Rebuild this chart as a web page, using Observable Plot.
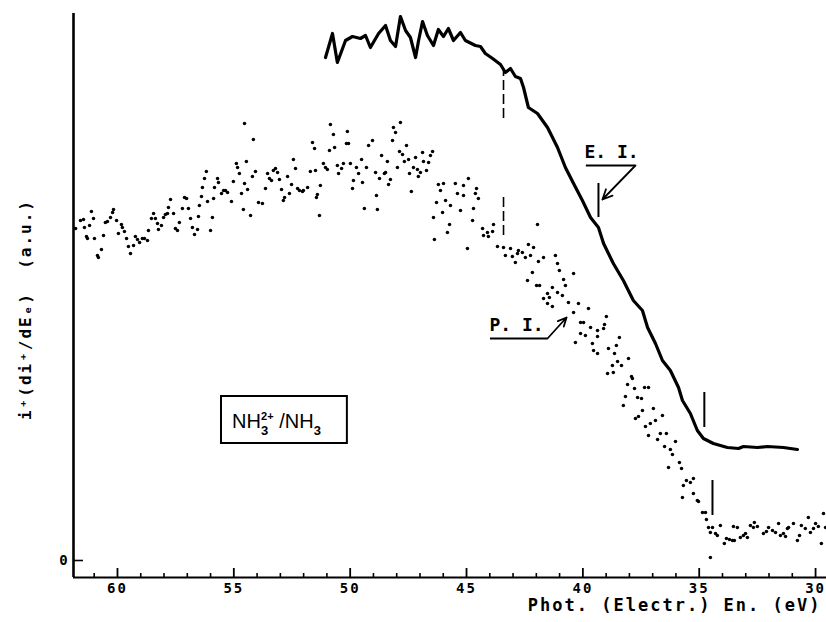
<!DOCTYPE html>
<html>
<head>
<meta charset="utf-8">
<script src="https://cdn.jsdelivr.net/npm/d3@7"></script>
<script src="https://cdn.jsdelivr.net/npm/@observablehq/plot@0.6"></script>
<style>
  body { margin: 0; background: #fff; }
</style>
</head>
<body>
<div id="chart"></div>
<script>
// ---- data (photon / electron energy in eV, signal in arbitrary units) ----
const xDomain = [61.89, 29.53];
const yDomain = [-3.4, 109.4];
const xMajorTicks = [60, 55, 50, 45, 40, 35, 30];
const xMinorTicks = [61, 59, 58, 57, 56, 54, 53, 52, 51, 49, 48, 47, 46, 44, 43, 42, 41, 39, 38, 37, 36, 34, 33, 32, 31];
const yTicks = [0];

// E.I. (electron impact) curve
const eiCurve = [
  [51.06,100.6],[50.76,105.4],[50.55,99.6],[50.20,104.0],[49.90,104.8],[49.56,104.4],[49.34,105.0],
  [49.13,102.6],[48.78,105.4],[48.48,107.0],[48.27,104.0],[48.05,102.8],[47.84,108.8],[47.62,106.0],
  [47.41,104.6],[47.19,100.6],[47.06,104.0],[46.89,107.8],[46.68,105.0],[46.42,103.0],[46.21,106.2],
  [45.99,104.8],[45.78,106.4],[45.56,104.0],[45.26,105.6],[45.05,104.0],[44.62,103.0],[44.40,102.8],
  [44.19,101.4],[43.88,100.4],[43.54,99.2],[43.33,97.6],[43.11,98.4],[42.90,96.8],[42.68,96.4],
  [42.55,94.6],[42.34,90.6],[41.95,89.4],[41.52,86.6],[41.09,82.6],[40.75,78.6],[40.40,75.4],
  [40.02,72.0],[39.67,68.6],[39.33,66.6],[39.11,63.4],[38.69,59.4],[38.26,56.0],[37.83,52.0],
  [37.44,50.0],[37.22,46.6],[36.88,43.4],[36.58,40.0],[36.24,38.0],[35.89,34.6],[35.72,32.0],
  [35.38,29.4],[35.08,26.0],[34.82,24.4],[34.39,23.4],[33.79,22.6],[33.31,22.4],[33.10,22.8],
  [32.50,22.6],[32.07,22.8],[31.38,22.6],[30.78,22.2]
];

// P.I. (photoionization) scattered points
const piPoints = [
  [61.80,66.4],[61.59,68.0],[61.46,68.2],[61.42,66.6],[61.33,64.8],[61.29,64.4],[61.20,67.0],[61.12,69.8],
  [61.03,68.4],[60.99,64.4],[60.86,61.0],[60.82,60.6],[60.69,62.2],[60.60,65.0],[60.52,67.6],[60.43,67.8],
  [60.30,68.6],[60.21,69.6],[60.17,70.2],[60.04,68.0],[59.96,65.4],[59.83,67.2],[59.79,66.6],[59.70,65.8],
  [59.61,64.4],[59.53,62.8],[59.44,61.4],[59.31,63.0],[59.23,64.8],[59.14,64.2],[59.05,63.6],[58.93,64.4],
  [58.84,64.4],[58.71,64.0],[58.67,66.0],[58.54,68.4],[58.45,69.4],[58.37,68.4],[58.28,67.4],[58.24,66.2],
  [58.11,67.0],[58.02,68.6],[57.94,69.2],[57.85,69.4],[57.81,70.6],[57.72,72.2],[57.59,69.4],[57.51,66.4],
  [57.42,66.0],[57.34,67.6],[57.21,70.4],[57.12,72.6],[57.03,72.4],[56.95,70.4],[56.86,68.4],[56.78,66.6],
  [56.69,65.2],[56.56,66.2],[56.52,68.8],[56.48,71.0],[56.39,72.8],[56.35,74.6],[56.26,76.4],[56.18,77.8],
  [56.13,71.8],[56.00,66.0],[55.92,68.6],[55.87,72.4],[55.83,74.6],[55.70,76.4],[55.66,75.6],[55.53,73.4],
  [55.44,74.0],[55.36,74.0],[55.27,73.6],[55.10,71.8],[55.02,75.8],[54.89,79.4],[54.84,78.6],[54.76,77.4],
  [54.67,73.4],[54.59,70.2],[54.54,75.4],[54.46,79.8],[54.41,74.2],[54.28,69.0],[54.20,76.8],[54.16,84.2],
  [54.07,77.8],[54.54,87.4],[53.94,71.6],
  [53.77,71.4],[53.64,74.4],[53.55,77.4],[53.47,76.4],[53.38,76.0],[53.30,78.0],[53.21,78.4],[53.12,77.6],
  [53.04,76.2],[52.95,74.2],[52.87,72.0],[52.82,72.6],[52.69,76.8],[52.61,73.4],[52.52,75.2],[52.44,80.2],
  [52.35,78.4],[52.26,74.4],[52.18,74.0],[52.05,73.8],[52.01,74.0],[51.83,74.6],[51.71,77.8],[51.62,83.6],
  [51.53,82.4],[51.49,78.0],[51.45,72.6],[51.41,73.2],[51.32,69.0],[51.28,75.0],[51.15,79.4],[51.06,78.6],
  [50.98,78.2],[50.89,82.0],[50.85,87.2],[50.72,85.2],[50.67,82.6],[50.55,79.0],[50.50,77.4],[50.37,78.4],
  [50.29,79.4],[50.16,83.4],[50.12,85.8],[50.07,83.4],[49.99,79.4],[49.90,74.4],[49.86,76.0],[49.73,78.6],
  [49.64,77.4],[49.51,80.2],[49.47,75.6],[49.39,70.4],[49.30,78.6],[49.21,83.0],[49.04,84.0],[48.91,77.6],
  [48.87,73.0],[48.83,70.2],[48.74,76.4],[48.65,81.0],[48.53,77.4],[48.48,77.6],[48.40,79.8],[48.35,75.2],
  [48.27,76.2],[48.18,84.0],[48.14,86.6],[48.05,85.6],[47.97,78.6],[47.88,81.8],[47.84,87.6],[47.75,81.2],
  [47.67,79.8],[47.58,83.0],[47.49,80.2],[47.45,77.4],[47.37,73.8],[47.28,78.6],[47.19,80.6],[47.11,78.2],
  [47.07,76.8],[46.98,77.6],[46.89,81.6],[46.85,79.8],[46.72,78.0],[46.63,79.6],[46.55,81.0],[46.46,81.8],
  [46.38,64.2],[46.42,68.6],[46.29,71.6],[46.21,75.2],[46.12,74.0],[45.99,75.4],[45.90,72.0],[46.03,69.6],
  [45.82,65.6],[45.73,67.2],
  [45.48,75.4],[45.13,75.0],[44.92,76.4],[45.39,73.4],[45.13,73.0],[44.57,74.4],[44.62,73.4],[45.69,71.0],
  [45.26,70.0],[44.70,70.4],[44.49,72.4],[44.74,68.0],[43.84,67.2],[44.31,66.4],[44.10,65.6],[43.88,65.8],
  [44.27,65.0],[44.06,64.8],[44.96,62.4],[43.67,62.8],[43.41,62.6],[43.11,62.4],[42.77,62.0],[42.60,61.6],
  [42.34,63.2],[42.12,62.6],[43.33,61.0],[43.03,60.8],[42.81,61.4],[42.47,60.6],[42.25,61.0],[42.90,59.6],
  [41.95,67.2],[41.91,59.8],[41.69,60.6],[41.18,61.0],[42.17,57.6],[41.09,59.4],[41.01,58.0],[42.38,56.0],
  [41.99,55.0],[41.86,55.0],[40.83,56.2],[40.40,57.4],[41.31,54.6],[40.75,55.0],[41.52,53.4],[41.44,52.6],
  [41.69,52.4],[41.09,53.6],[40.88,53.0],[41.52,51.4],[41.31,50.8],[40.62,51.6],[40.19,51.4],[39.76,50.4],
  [40.40,49.6],[40.10,47.6],[39.97,47.6],[39.67,46.6],[40.10,45.4],[39.89,45.0],[39.37,46.0],[39.37,44.8],
  [40.32,43.6],[39.59,43.4],[39.54,42.0],[39.37,41.4],
  [38.99,48.8],[39.07,47.2],[39.11,46.4],[38.43,44.6],[38.90,42.4],[38.56,43.0],[38.64,41.4],[38.04,40.4],
  [38.51,39.8],[38.34,39.0],[38.73,39.0],[38.94,37.4],[38.69,37.6],[37.91,36.8],[37.87,36.4],[38.08,35.2],
  [37.78,34.4],[37.35,34.6],[37.18,34.6],[38.17,32.8],[37.65,32.6],[37.48,32.4],
  [38.26,31.0],[37.74,28.4],[37.61,28.8],[37.44,30.0],[36.97,30.4],[36.58,29.0],[37.31,26.8],[37.10,27.4],
  [36.88,28.0],[37.18,25.0],[36.67,25.4],[36.41,25.4],[36.79,24.2],[36.02,23.8],[36.49,22.8],[36.24,22.2],
  [36.15,21.2],[35.85,19.6],[36.32,18.6],[35.76,18.4],[35.55,16.0],[35.38,15.6],[35.25,16.4],[35.68,15.0],
  [35.72,12.6],[35.25,13.4],[35.08,12.0],[35.03,11.8],[34.86,9.6],[34.73,9.6],[34.69,8.2],[34.60,6.6],
  [34.43,6.6],[34.52,5.6],[34.30,5.4],[34.22,5.0],[34.09,7.0],[33.92,3.4],[33.83,4.4],[33.70,4.2],
  [33.57,4.0],[33.53,6.8],[33.49,4.0],[33.36,6.6],[33.23,4.6],[33.10,5.0],[33.01,5.4],[32.93,4.6],
  [32.80,7.0],[32.67,6.6],[32.63,7.6],[32.50,6.8],[32.24,5.4],[32.11,5.8],[32.02,6.6],[31.85,6.0],
  [31.72,5.6],[31.59,7.4],[31.51,5.0],[31.38,5.4],[31.29,4.8],[31.21,6.4],[31.16,6.6],[30.95,7.4],
  [30.78,4.0],[30.69,5.0],[30.61,7.0],[30.31,8.6],[30.44,6.4],[30.22,5.6],[30.09,6.4],[30.00,7.4],
  [29.88,6.8],[29.75,3.4],[29.66,9.4],[29.57,6.6],[34.52,0.6]
];

// annotation marks (energy, low, high)
const dashMarks = [[43.41, 88.4, 98.0], [43.41, 65.0, 73.0]];
const edgeMarks = [[39.33, 68.6, 75.4], [34.78, 26.6, 33.6], [34.43, 9.0, 16.0]];
const seriesLabels = [["E. I.", 38.77, 81.6], ["P. I.", 42.85, 47.0]];
const labelUnderlines = [[39.85, 37.74, 79.0], [43.97, 41.52, 44.4]];
const labelArrows = [[37.74, 79.0, 39.16, 72.2], [41.52, 44.4, 40.70, 48.6]];
const boxCorners = [[55.53, 50.12, 23.4, 32.8]];
const xLabel = "Phot. (Electr.) En. (eV)";
const yLabel = "i⁺(di⁺/dEₑ)  (a.u.)";
const yLabelPos = 50.2;

const mono = "'DejaVu Sans Mono', 'Liberation Mono', monospace";
const xL = xDomain[0], yB = yDomain[0];

const chart = Plot.plot({
  width: 826,
  height: 622,
  marginLeft: 73,
  marginRight: 0,
  marginTop: 13,
  marginBottom: 45,
  x: {domain: xDomain, axis: null},
  y: {domain: yDomain, axis: null},
  style: {fontFamily: mono, background: "white", color: "black"},
  marks: [
    // axes frame
    Plot.ruleX([xL], {stroke: "black", strokeWidth: 2.6}),
    Plot.ruleY([yB], {stroke: "black", strokeWidth: 2}),
    Plot.ruleX(xMinorTicks, {x: d => d, y1: yB, y2: yB + 0.8, stroke: "black", strokeWidth: 1.6}),
    Plot.ruleX(xMajorTicks, {x: d => d, y1: yB, y2: yB + 1.8, stroke: "black", strokeWidth: 1.8}),
    Plot.ruleY(yTicks, {y: d => d, x1: xL, x2: xL - 0.43, stroke: "black", strokeWidth: 1.6}),
    Plot.text(xMajorTicks, {x: d => d, y: yB, dy: 11, text: d => String(d), fontSize: 14, fontWeight: "bold", fontFamily: mono}),
    Plot.text(yTicks, {x: xL, y: d => d, dx: -9, text: d => String(d), fontSize: 14, fontWeight: "bold", fontFamily: mono}),
    Plot.text([xLabel], {frameAnchor: "bottom-right", text: d => d, dx: -5, dy: 33, textAnchor: "end", fontSize: 17, fontWeight: "bold", fontFamily: mono}),
    Plot.text([yLabel], {x: xL, y: () => yLabelPos, text: d => d, dx: -48, rotate: -90, fontSize: 16, fontWeight: "bold", fontFamily: mono}),

    // P.I. scatter
    Plot.dot(piPoints, {x: d => d[0], y: d => d[1], r: 1.75, fill: "black", stroke: "none"}),
    // E.I. curve
    Plot.line(eiCurve, {x: d => d[0], y: d => d[1], stroke: "black", strokeWidth: 3.2, strokeLinejoin: "round", strokeLinecap: "round"}),

    // threshold markers
    Plot.ruleX(dashMarks, {x: d => d[0], y1: d => d[1], y2: d => d[2], stroke: "black", strokeWidth: 1.6, strokeDasharray: "10,4"}),
    Plot.ruleX(edgeMarks, {x: d => d[0], y1: d => d[1], y2: d => d[2], stroke: "black", strokeWidth: 2}),

    // series labels with leader arrows
    Plot.text(seriesLabels, {x: d => d[1], y: d => d[2], text: d => d[0], fontSize: 18, fontWeight: "bold", fontFamily: mono}),
    Plot.ruleY(labelUnderlines, {x1: d => d[0], x2: d => d[1], y: d => d[2], stroke: "black", strokeWidth: 2}),
    Plot.arrow(labelArrows, {x1: d => d[0], y1: d => d[1], x2: d => d[2], y2: d => d[3], stroke: "black", strokeWidth: 1.8, headLength: 9, headAngle: 50}),

    // sample box
    Plot.rect(boxCorners, {x1: d => d[0], x2: d => d[1], y1: d => d[2], y2: d => d[3], fill: "none", stroke: "black", strokeWidth: 2})
  ]
});

document.getElementById("chart").appendChild(chart);

// letter spacing like a pen-plotter font
const svg = d3.select(chart);
svg.selectAll("text").style("letter-spacing", "2px");
svg.selectAll("text").filter(function () { return /^[EP]\. I\.$/.test(this.textContent); }).style("letter-spacing", "0px");

// box label with stacked super/subscripts, positioned through Plot's scales
const sx = chart.scale("x"), sy = chart.scale("y");
const bx = sx.apply(boxCorners[0][0]) + 11;
const by = sy.apply((boxCorners[0][2] + boxCorners[0][3]) / 2) + 8.5;
const t = svg.append("text")
  .attr("x", bx).attr("y", by)
  .attr("text-anchor", "start")
  .attr("font-family", "'Liberation Sans', Arial, sans-serif")
  .attr("font-size", 20).attr("fill", "black");
t.append("tspan").text("NH");
t.append("tspan").attr("font-size", 13).attr("font-weight", "bold").attr("dy", 7).text("3");
t.append("tspan").attr("font-size", 11).attr("font-weight", "bold").attr("dx", -7).attr("dy", -15).text("2+");
t.append("tspan").attr("dy", 8).text(" /NH");
t.append("tspan").attr("font-size", 13).attr("font-weight", "bold").attr("dy", 7).text("3");
</script>
</body>
</html>
